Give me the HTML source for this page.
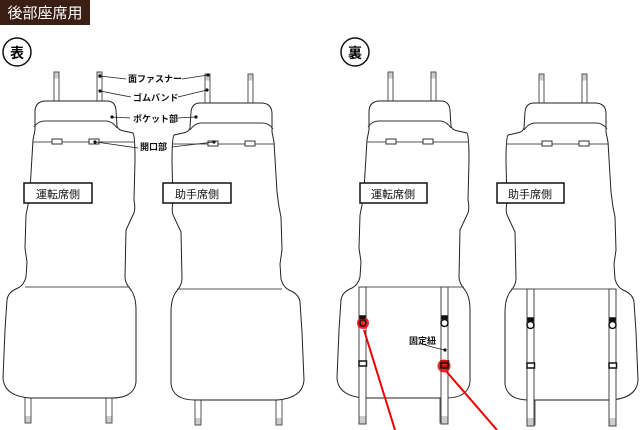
<!DOCTYPE html>
<html><head><meta charset="utf-8"><style>
html,body{margin:0;padding:0;background:#fff;width:640px;height:430px;overflow:hidden}
svg{display:block}
text{font-family:"Liberation Sans","Noto Sans CJK JP",sans-serif;}
</style></head><body>
<svg width="640" height="430" viewBox="0 0 640 430">
<defs>
<g id="seat">
  <g fill="#fff" stroke="#555" stroke-width="1">
    <rect x="54" y="72" width="5" height="31"/>
    <rect x="97" y="72" width="5" height="31"/>
    <rect x="25" y="396" width="6" height="27"/>
    <rect x="106" y="396" width="6" height="27"/>
  </g>
  <g fill="#ccc"><rect x="54.5" y="72.5" width="4" height="6"/><rect x="97.5" y="72.5" width="4" height="6"/>
  <rect x="25.5" y="416" width="5" height="6.5"/><rect x="106.5" y="416" width="5" height="6.5"/></g>
  <path d="M35,130 L35,112 Q35,101 46,101 L107,101 Q115,101 116,110 L117,126 Q118,130 124,131 L133,133 Q135,136 135,160 L134,200 Q136,210 133,215 L126,230 L125,277 Q125,283 131,290 Q136,297 136,310 L136,382 Q134,398 112,398 L30,398 Q4,396 3,378 L5,330 L7,300 Q8,292 18,288 Q24,285 26,277 L27,262 L25,248 L26,215 L28,205 L30,190 L33,140 Z" fill="#fff" stroke="#222" stroke-width="1"/>
  <path d="M34,127 Q38,121 45,121 L107,121 Q113,122 117,128" fill="none" stroke="#333"/>
  <path d="M33,142 L135,142" stroke="#555"/>
  <path d="M25,287 L130,287" stroke="#555"/>
  <rect x="52" y="139" width="10" height="5" fill="#fff" stroke="#333"/>
  <rect x="89" y="139" width="10" height="5" fill="#fff" stroke="#333"/>
</g>
<g id="straps">
  <g fill="#fff" stroke="#444">
    <rect x="359" y="287" width="7" height="137"/>
    <rect x="441" y="287" width="7" height="137"/>
  </g>
  <g fill="#ccc"><rect x="359.5" y="416" width="6" height="7.5"/><rect x="441.5" y="416" width="6" height="7.5"/></g>
  <g stroke="#111" stroke-width="1.5" fill="#fff">
    <rect x="360" y="316" width="5" height="3" fill="#111"/>
    <circle cx="362.5" cy="323" r="3.5"/>
    <rect x="442" y="316" width="5" height="3" fill="#111"/>
    <circle cx="444.5" cy="323" r="3.5"/>
    <rect x="359" y="361" width="7.5" height="5"/>
    <rect x="441" y="361" width="7.5" height="5"/>
  </g>
</g>
</defs>

<rect x="0" y="0" width="90" height="25" fill="#3b1e14"/>
<text x="45" y="18" font-size="15" fill="#fff" text-anchor="middle">後部座席用</text>

<circle cx="17" cy="52" r="14" fill="#fff" stroke="#111" stroke-width="1.5"/>
<text x="17" y="58" font-size="14" font-weight="bold" text-anchor="middle">表</text>
<circle cx="355" cy="52" r="14" fill="#fff" stroke="#111" stroke-width="1.5"/>
<text x="355" y="58" font-size="14" font-weight="bold" text-anchor="middle">裏</text>

<use href="#seat"/>
<use href="#seat" transform="translate(307,2) scale(-1,1)"/>
<use href="#seat" transform="translate(334,0)"/>
<use href="#seat" transform="translate(641,2) scale(-1,1)"/>

<use href="#straps"/>
<use href="#straps" transform="translate(168,2)"/>

<g fill="#fff" stroke="#111" stroke-width="1.5">
<rect x="24" y="183" width="68" height="20"/>
<rect x="163" y="183" width="68" height="20"/>
<rect x="360" y="183" width="67" height="20"/>
<rect x="497" y="183" width="67" height="20"/>
</g>
<g font-size="11" text-anchor="middle" fill="#111">
<text x="58" y="198">運転席側</text>
<text x="197" y="198">助手席側</text>
<text x="393" y="198">運転席側</text>
<text x="530" y="198">助手席側</text>
</g>

<g stroke="#222" stroke-width="0.8" fill="none">
<path d="M100,76 L126,79"/><path d="M100,91 L131,97"/><path d="M112,117 L130,118"/><path d="M96,142 L138,148"/>
<path d="M182,79 L208,75"/><path d="M178,97 L207,90"/><path d="M177,118 L196,117"/><path d="M172,147 L214,142"/>
<path d="M425,345 Q435,348 445,350"/>
</g>
<g fill="#111">
<circle cx="100" cy="76" r="1.6"/><circle cx="100" cy="91" r="1.6"/><circle cx="112" cy="117" r="1.6"/><circle cx="95" cy="142" r="1.6"/>
<circle cx="208" cy="75" r="1.6"/><circle cx="207" cy="90" r="1.6"/><circle cx="196" cy="117" r="1.6"/><circle cx="214" cy="142" r="1.6"/>
<circle cx="445" cy="350" r="1.6"/>
</g>
<g font-size="9" font-weight="bold" fill="#111">
<text x="128" y="82">面ファスナー</text>
<text x="133" y="101">ゴムバンド</text>
<text x="133" y="122">ポケット部</text>
<text x="140" y="150">開口部</text>
<text x="409" y="344">固定紐</text>
</g>

<g stroke="#e00" stroke-width="2" fill="none">
<path d="M364,330 L395,430"/>
<path d="M446,371 L497,430"/>
</g>
<circle cx="363" cy="323" r="6" fill="#e00" opacity="0.85"/>
<rect x="360" y="316" width="5" height="3" fill="#111"/>
<circle cx="363" cy="323" r="3" fill="none" stroke="#111" stroke-width="1.2"/>
<circle cx="444" cy="366" r="6.5" fill="#e00" opacity="0.85"/>
<rect x="441" y="363" width="7" height="5" fill="none" stroke="#111" stroke-width="1.5"/>
</svg>
</body></html>
